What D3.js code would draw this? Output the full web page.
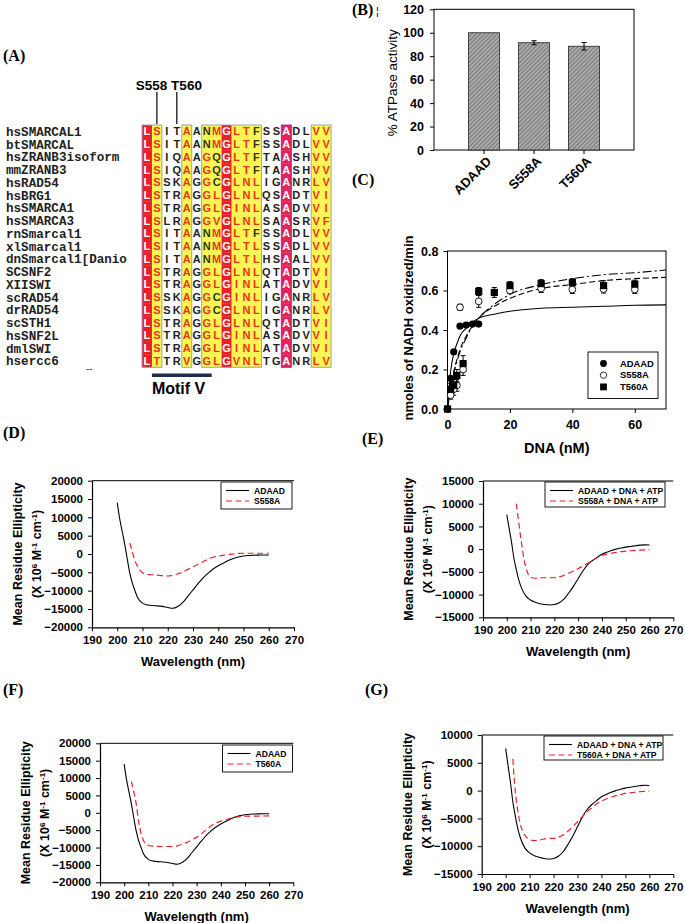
<!DOCTYPE html>
<html><head><meta charset="utf-8">
<script src="https://cdn.jsdelivr.net/npm/d3@7"></script>
<style>
body{margin:0;background:#fff}
svg{display:block}
text{font-family:"Liberation Sans",Arial,sans-serif;fill:#000}
</style></head><body>
<svg id="c" width="685" height="923"></svg>
<script>
// ================= DATA =================
// Panel A – alignment
const alignNames = ["hsSMARCAL1","btSMARCAL","hsZRANB3isoform","mmZRANB3","hsRAD54","hsBRG1","hsSMARCA1","hsSMARCA3","rnSmarcal1","xlSmarcal1","dnSmarcal1[Danio","SCSNF2","XIISWI","scRAD54","drRAD54","scSTH1","hsSNF2L","dmlSWI","hsercc6"];
const alignSeqs = [
 "LSITAANMGLTFSSADLVV","LSITAANMGLTFSSADLVV","LSIQAAGQGLTFTAASHVV","LSIQAAGQGLTFTAASHVV",
 "LSSKAGGCGLNLIGANRLV","LSTRAGGLGLNLQSADTVI","LSTRAGGLGINLASADVVI","LSLRAGGVGLNLSAASRVF",
 "LSITAANMGLTFSSADLVV","LSITAANMGLTLSSADLVV","LSITAANMGLTLHSAALVV","LSTRAGGLGLNLQTADTVI",
 "LSTRAGGLGINLATADVVI","LSSKAGGCGINLIGANRLV","LSSKAGGCGLNLIGANRLV","LSTRAGGLGLNLQTADTVI",
 "LSTRAGGLGINLASADVVI","LSTRAGGLGINLATADVVI","LTTRVGGLGVNLTGANRLV"];
const alignColClass = ["red","yel","","","yel","","yel","yel","red","yel","yel","yel","","","mag","","","yel","yel"];
const alignRedLetters = ["","ST","","","AV","","G","MLV","","LIV","TN","L","","","","","","VL","VIF"];
const alignMarks = ["S558","T560"];

// Panel B – ATPase activity
const atpCats = ["ADAAD","S558A","T560A"];
const atpVals = [100, 91.5, 88.5];
const atpErr  = [0, 1.7, 3.2];
const atpTicks = [0,20,40,60,80,100,120];

// Panel C – NADH oxidation vs DNA
const dnaADAAD  = [0,1,2,4,6,8,10];
const rateADAAD = [0,0.155,0.29,0.42,0.425,0.43,0.43];
const errADAAD  = [0,0.01,0.01,0.01,0.01,0.01,0.01];
const dnaS558A  = [0,1,2,3,4,5,10,20,30,40,50,60];
const rateS558A = [0,0.07,0.10,0.12,0.515,0.20,0.545,0.60,0.61,0.605,0.607,0.605];
const errS558A  = [0,0.02,0.03,0.03,0.015,0.03,0.03,0.015,0.02,0.02,0.02,0.02];
const dnaT560A  = [0,1,2,3,5,10,15,20,30,40,50,60];
const rateT560A = [0,0.10,0.12,0.17,0.23,0.595,0.59,0.625,0.635,0.64,0.625,0.632];
const errT560A  = [0,0.03,0.03,0.03,0.04,0.02,0.025,0.02,0.02,0.02,0.025,0.02];
const fitDNA    = [0,1,2,3,4,6,8,10,15,20,30,40,50,60,70];
const fitADAAD  = [0,0.19,0.28,0.33,0.37,0.41,0.44,0.46,0.48,0.495,0.51,0.515,0.52,0.525,0.527];
const fitS558A  = [0,0.11,0.19,0.25,0.30,0.37,0.42,0.46,0.52,0.56,0.61,0.63,0.65,0.66,0.667];
const fitT560A  = [0,0.10,0.18,0.24,0.29,0.36,0.42,0.46,0.53,0.58,0.63,0.66,0.68,0.69,0.704];
const cLegend = ["ADAAD","S558A","T560A"];

// CD spectra
const wlADAAD  = [200,201,202,203,204,205,206,207,208,210,212,215,218,220,222,224,226,228,230,232,234,236,238,240,242,244,246,248,250,252,254,256,258,260];
const cdADAAD  = [14000,9500,6000,2500,-1500,-5300,-8000,-10000,-11800,-13400,-13900,-14100,-14300,-14600,-14800,-14300,-13200,-11500,-9800,-8100,-6500,-5200,-4100,-3200,-2500,-1800,-1200,-800,-550,-400,-330,-300,-280,-270];
const wlS558A  = [205,206,207,208,209,210,212,215,218,220,222,224,226,228,230,232,234,236,238,240,242,244,246,248,250,255,260];
const cdS558A  = [3000,500,-1800,-3300,-4400,-5100,-5600,-5700,-5900,-6000,-5800,-5400,-4900,-4200,-3500,-2800,-2100,-1400,-900,-600,-350,-150,0,150,200,200,200];
const wlT560A  = [203,204,205,206,207,208,209,210,212,215,218,220,222,224,226,228,230,232,234,236,238,240,242,244,246,248,250,255,260];
const cdT560A  = [9000,6000,2500,-2500,-6000,-8000,-9000,-9400,-9600,-9700,-9700,-9700,-9500,-9000,-8500,-7800,-7000,-6000,-4900,-3700,-2900,-2400,-2000,-1600,-1300,-1100,-1000,-950,-900];
const wlADAADda = [200,201,202,203,204,205,206,208,210,212,214,216,218,220,222,224,226,228,230,232,234,236,238,240,242,244,246,248,250,252,254,256,258,260];
const cdADAADda = [7600,4500,1500,-2000,-4500,-6700,-8300,-10300,-11200,-11700,-12000,-12200,-12300,-12200,-11800,-11000,-9700,-8200,-6500,-4800,-3400,-2500,-1800,-1100,-700,-300,0,250,450,600,750,880,950,900];
const wlS558Ada = [204,205,206,207,208,209,210,212,214,216,218,220,222,224,226,228,230,232,234,236,238,240,242,244,246,248,250,252,254,256,258,260];
const cdS558Ada = [10000,6000,2000,-1500,-4000,-5500,-6200,-6400,-6300,-6300,-6300,-6300,-6100,-5800,-5300,-4800,-4300,-3700,-3100,-2500,-1900,-1400,-1100,-900,-700,-550,-450,-350,-250,-200,-150,-100];
const wlT560Ada = [203,204,205,206,207,208,210,212,214,216,218,220,222,224,226,228,230,232,234,236,238,240,242,244,246,248,250,252,254,256,258,260];
const cdT560Ada = [5700,0,-3500,-5800,-7200,-8000,-8800,-9000,-8900,-8700,-8600,-8600,-8400,-8000,-7300,-6500,-5600,-4700,-3800,-3100,-2400,-1900,-1500,-1200,-900,-700,-500,-400,-300,-200,-150,-100];
const wlTicks = [190,200,210,220,230,240,250,260,270];

// ================= DRAW =================
const svg = d3.select("#c");
const RED = "#e8232a";
const zip = (xs, ys) => xs.map((x,i)=>[x, ys[i]]);

function panelLabel(t, x, y){
  svg.append("text").attr("x",x).attr("y",y).text(t)
    .style("font-family","'Liberation Serif','Times New Roman',serif")
    .style("font-weight","bold").style("font-size","16px");
}
panelLabel("(A)",3,61); panelLabel("(B)",352,15); panelLabel("(C)",352,185);
panelLabel("(D)",3,438); panelLabel("(E)",362,444); panelLabel("(F)",3,695); panelLabel("(G)",365,695);
svg.append("text").attr("x",376).attr("y",15).text("¦").style("font-size","11px");

// ---------- Panel A ----------
(function(){
  const x0=142, cw=9.95, y0=125, rh=12.75;
  const g = svg.append("g");
  const nCol = alignSeqs[0].length;
  const colX = d3.scaleLinear().domain([0,nCol]).range([x0, x0+nCol*cw]);
  const rowY = d3.scaleLinear().domain([0,alignNames.length]).range([y0, y0+alignNames.length*rh]);
  const bg = {red:"#e8202a", yel:"#fbf452", mag:"#e3245a"};
  alignSeqs.forEach((s,r)=>{
    s.split("").forEach((ch,c)=>{
      const cls = alignColClass[c];
      if(cls){
        g.append("rect").attr("x",colX(c)).attr("y",rowY(r)).attr("width",cw+0.3).attr("height",rh+0.3).attr("fill",bg[cls]);
      }
      let col = "#222";
      if(cls==="red"||cls==="mag") col="#fff";
      else if(cls==="yel") col = alignRedLetters[c].includes(ch) ? "#e8361a" : "#2a3a10";
      g.append("text").attr("x",colX(c)+cw/2).attr("y",rowY(r)+rh/2).attr("dy","0.36em")
        .attr("text-anchor","middle").text(ch)
        .style("font-size","11px").style("font-weight","bold").style("fill",col);
    });
    g.append("text").attr("x",6).attr("y",rowY(r)+rh/2).attr("dy","0.36em").text(alignNames[r])
      .style("font-family","'Liberation Mono','Courier New',monospace").style("font-weight","bold")
      .style("font-size","12.6px").style("fill","#222");
  });
  const groups=[[0,1],[4,4],[6,11],[14,14],[17,18]];
  groups.forEach(([a,b])=>{
    g.append("rect").attr("x",colX(a)).attr("y",rowY(0)).attr("width",colX(b+1)-colX(a))
      .attr("height",rowY(alignNames.length)-rowY(0)).attr("fill","none")
      .attr("stroke", a===14 ? "#a02a9a" : "#8aa0b8").attr("stroke-width",0.9);
  });
  const markCols=[1,3];
  svg.append("text").attr("x",(colX(1)+colX(4))/2+2).attr("y",85).attr("dy","0.36em").attr("text-anchor","middle")
    .text(alignMarks.join(" ")).style("font-weight","bold").style("font-size","13.5px");
  markCols.forEach(c=>{
    svg.append("line").attr("x1",colX(c)+cw/2).attr("x2",colX(c)+cw/2).attr("y1",92).attr("y2",y0-1)
      .attr("stroke","#000").attr("stroke-width",1.2);
  });
  svg.append("rect").attr("x",colX(1)).attr("y",373.5).attr("width",colX(7)-colX(1)).attr("height",3.5).attr("fill","#1d2d4c");
  svg.append("text").attr("x",colX(1)).attr("y",388).attr("dy","0.36em").text("Motif V")
    .style("font-weight","bold").style("font-size","16px");
  svg.append("text").attr("x",86).attr("y",372).text("--").style("font-size","10px").style("fill","#444");
})();

// ---------- Panel B ----------
(function(){
  const L=434,R=634,T=9.3,B=150;
  const defs = svg.append("defs");
  const p = defs.append("pattern").attr("id","hatch").attr("patternUnits","userSpaceOnUse")
    .attr("width",3).attr("height",3).attr("patternTransform","rotate(45)");
  p.append("rect").attr("width",3).attr("height",3).attr("fill","#b4b4b4");
  p.append("rect").attr("width",1.3).attr("height",3).attr("fill","#777");
  const x = d3.scaleBand().domain(atpCats).range([L+25,R-25]);
  const y = d3.scaleLinear().domain([0,120]).range([B,T]);
  const g = svg.append("g");
  g.append("rect").attr("x",L).attr("y",T).attr("width",R-L).attr("height",B-T).attr("fill","none").attr("stroke","#000").attr("stroke-width",1);
  const bw = x.bandwidth()*0.62;
  atpCats.forEach((c,i)=>{
    const cx = x(c)+x.bandwidth()/2;
    g.append("rect").attr("x",cx-bw/2).attr("y",y(atpVals[i])).attr("width",bw).attr("height",y(0)-y(atpVals[i]))
      .attr("fill","url(#hatch)").attr("stroke","#222").attr("stroke-width",0.8);
    if(atpErr[i]>0){
      const e=atpErr[i];
      g.append("line").attr("x1",cx).attr("x2",cx).attr("y1",y(atpVals[i]+e)).attr("y2",y(atpVals[i]-e)).attr("stroke","#000");
      [atpVals[i]+e,atpVals[i]-e].forEach(v=>g.append("line").attr("x1",cx-2.5).attr("x2",cx+2.5).attr("y1",y(v)).attr("y2",y(v)).attr("stroke","#000"));
    }
    g.append("line").attr("x1",cx).attr("x2",cx).attr("y1",B).attr("y2",B+4).attr("stroke","#000");
    g.append("text").attr("transform",`translate(${cx+5},${B+9}) rotate(-45)`).attr("text-anchor","end")
      .attr("dy","0.35em").text(c).style("font-weight","bold").style("font-size","13px");
  });
  const ya = g.append("g").attr("transform",`translate(${L},0)`).call(d3.axisLeft(y).tickValues(atpTicks).tickSize(4).tickSizeOuter(0).tickPadding(6));
  ya.select(".domain").remove();
  ya.selectAll("text").style("font-weight","bold").style("font-size","12.5px").style("font-family","'Liberation Sans',Arial");
  g.append("text").attr("transform",`translate(392,${(T+B)/2+3}) rotate(-90)`).attr("text-anchor","middle").attr("dy","0.35em")
    .text("% ATPase activity").style("font-size","13.5px");
})();

// ---------- Panel C ----------
(function(){
  const L=447.5,R=666,T=251,B=409;
  const x = d3.scaleLinear().domain([0,70]).range([L,R]);
  const y = d3.scaleLinear().domain([0,0.8]).range([B,T]);
  const g = svg.append("g");
  g.append("rect").attr("x",L).attr("y",T).attr("width",R-L).attr("height",B-T).attr("fill","none").attr("stroke","#000");
  const xa = g.append("g").attr("transform",`translate(0,${B})`).call(d3.axisBottom(x).tickValues([0,20,40,60]).tickSize(4).tickSizeOuter(0).tickPadding(7));
  const ya = g.append("g").attr("transform",`translate(${L},0)`).call(d3.axisLeft(y).tickValues([0,0.2,0.4,0.6,0.8]).tickFormat(d3.format(".1f")).tickSize(4).tickSizeOuter(0).tickPadding(5));
  [xa,ya].forEach(a=>{a.select(".domain").remove(); a.selectAll("text").style("font-weight","bold").style("font-size","12.5px").style("font-family","'Liberation Sans',Arial");});
  g.append("text").attr("x",(L+R)/2).attr("y",448).attr("dy","0.35em").attr("text-anchor","middle").text("DNA (nM)").style("font-weight","bold").style("font-size","14.5px");
  g.append("text").attr("transform",`translate(408,${(T+B)/2-2}) rotate(-90)`).attr("text-anchor","middle").attr("dy","0.35em")
    .text("nmoles of NADH oxidized/min").style("font-weight","bold").style("font-size","13px");
  const line = d3.line().x(d=>x(d[0])).y(d=>y(d[1])).curve(d3.curveMonotoneX);
  g.append("path").attr("d",line(zip(fitDNA,fitADAAD))).attr("fill","none").attr("stroke","#000").attr("stroke-width",1.1);
  g.append("path").attr("d",line(zip(fitDNA,fitS558A))).attr("fill","none").attr("stroke","#000").attr("stroke-width",1.1).attr("stroke-dasharray","6,3");
  g.append("path").attr("d",line(zip(fitDNA,fitT560A))).attr("fill","none").attr("stroke","#000").attr("stroke-width",1.1).attr("stroke-dasharray","9,3,2,3");
  function errs(xs,ys,es){
    xs.forEach((v,i)=>{ if(!es[i]) return; const cx=x(v);
      g.append("line").attr("x1",cx).attr("x2",cx).attr("y1",y(ys[i]+es[i])).attr("y2",y(ys[i]-es[i])).attr("stroke","#000");
      [ys[i]+es[i],ys[i]-es[i]].forEach(w=>g.append("line").attr("x1",cx-2.5).attr("x2",cx+2.5).attr("y1",y(w)).attr("y2",y(w)).attr("stroke","#000"));
    });
  }
  errs(dnaS558A,rateS558A,errS558A); errs(dnaT560A,rateT560A,errT560A); errs(dnaADAAD,rateADAAD,errADAAD);
  dnaS558A.forEach((v,i)=>g.append("circle").attr("cx",x(v)).attr("cy",y(rateS558A[i])).attr("r",3.4).attr("fill","#fff").attr("stroke","#000").attr("stroke-width",0.9));
  dnaT560A.forEach((v,i)=>g.append("rect").attr("x",x(v)-3.6).attr("y",y(rateT560A[i])-3.6).attr("width",7.2).attr("height",7.2).attr("fill","#000"));
  dnaADAAD.forEach((v,i)=>g.append("circle").attr("cx",x(v)).attr("cy",y(rateADAAD[i])).attr("r",3.6).attr("fill","#000"));
  const lx=588, ly=352;
  g.append("rect").attr("x",lx).attr("y",ly).attr("width",70).attr("height",46.5).attr("fill","#fff").attr("stroke","#000").attr("stroke-width",0.9);
  cLegend.forEach((t,i)=>{
    const yy = ly+11.5+i*11.7, mx=lx+15.5;
    if(i===0) g.append("circle").attr("cx",mx).attr("cy",yy).attr("r",3.4).attr("fill","#000");
    if(i===1) g.append("circle").attr("cx",mx).attr("cy",yy).attr("r",3.2).attr("fill","#fff").attr("stroke","#000").attr("stroke-width",0.8);
    if(i===2) g.append("rect").attr("x",mx-3.4).attr("y",yy-3.4).attr("width",6.8).attr("height",6.8).attr("fill","#000");
    g.append("text").attr("x",lx+32).attr("y",yy).attr("dy","0.35em").text(t).style("font-weight","bold").style("font-size","9.4px");
  });
})();

// ---------- CD panels ----------
function cdPanel(o){
  const {L,R,T,B,ymin,ymax,series,legend,lg} = o;
  const x = d3.scaleLinear().domain([190,270]).range([L,R]);
  const y = d3.scaleLinear().domain([ymin,ymax]).range([B,T]);
  const g = svg.append("g");
  g.append("line").attr("x1",L).attr("x2",R).attr("y1",T).attr("y2",T).attr("stroke","#000").attr("stroke-width",1);
  const xa = g.append("g").attr("transform",`translate(0,${B})`).call(d3.axisBottom(x).tickValues(wlTicks).tickSize(4).tickSizeOuter(0).tickPadding(5));
  const ya = g.append("g").attr("transform",`translate(${L},0)`).call(d3.axisLeft(y).tickValues(d3.range(ymin,ymax+1,5000)).tickFormat(d3.format("d")).tickSize(4).tickSizeOuter(0).tickPadding(5));
  [xa,ya].forEach(a=>{a.select(".domain").attr("stroke-width",1.2); a.selectAll("text").style("font-weight","bold").style("font-size","11.5px").style("font-family","'Liberation Sans',Arial");});
  g.append("text").attr("x",(L+R)/2).attr("y",B+34).attr("dy","0.35em").attr("text-anchor","middle").text("Wavelength (nm)").style("font-weight","bold").style("font-size","13px");
  const cy=(T+B)/2;
  g.append("text").attr("transform",`translate(${L-74},${cy}) rotate(-90)`).attr("text-anchor","middle").attr("dy","0.35em")
    .text("Mean Residue Ellipticity").style("font-weight","bold").style("font-size","12.5px");
  const t2 = g.append("text").attr("transform",`translate(${L-55},${cy}) rotate(-90)`).attr("text-anchor","middle").attr("dy","0.35em")
    .style("font-weight","bold").style("font-size","12.5px");
  t2.append("tspan").text("(X 10");
  t2.append("tspan").text("6").attr("baseline-shift","super").style("font-size","8px");
  t2.append("tspan").text(" M");
  t2.append("tspan").text("-1").attr("baseline-shift","super").style("font-size","8px");
  t2.append("tspan").text(" cm");
  t2.append("tspan").text("-1").attr("baseline-shift","super").style("font-size","8px");
  t2.append("tspan").text(")");
  const line = d3.line().x(d=>x(d[0])).y(d=>y(d[1])).curve(d3.curveMonotoneX);
  series.forEach((s,i)=>{
    g.append("path").attr("d",line(zip(s[0],s[1]))).attr("fill","none")
      .attr("stroke", i===0?"#000":RED).attr("stroke-width", i===0?1.1:1.2)
      .attr("stroke-dasharray", i===0?null:"6,3.5");
  });
  g.append("rect").attr("x",lg.x).attr("y",lg.y).attr("width",lg.w).attr("height",lg.h).attr("fill","#fff").attr("stroke","#000").attr("stroke-width",0.9);
  legend.forEach((t,i)=>{
    const yy = lg.y+8.5+i*10.5;
    g.append("line").attr("x1",lg.x+5).attr("x2",lg.x+28).attr("y1",yy).attr("y2",yy)
      .attr("stroke", i===0?"#000":RED).attr("stroke-width",1.1).attr("stroke-dasharray", i===0?null:"6,3.5");
    g.append("text").attr("x",lg.x+33).attr("y",yy).attr("dy","0.35em").text(t).style("font-weight","bold").style("font-size","8.6px");
  });
}
cdPanel({L:92,R:294,T:480.7,B:627.3,ymin:-20000,ymax:20000,
  series:[[wlADAAD,cdADAAD],[wlS558A,cdS558A]], legend:["ADAAD","S558A"], lg:{x:221,y:482,w:71,h:27}});
cdPanel({L:100,R:293.3,T:743.3,B:882.3,ymin:-20000,ymax:20000,
  series:[[wlADAAD,cdADAAD],[wlT560A,cdT560A]], legend:["ADAAD","T560A"], lg:{x:222.5,y:745,w:70,h:27}});
cdPanel({L:483,R:673.3,T:481,B:617.3,ymin:-15000,ymax:15000,
  series:[[wlADAADda,cdADAADda],[wlS558Ada,cdS558Ada]], legend:["ADAAD + DNA + ATP","S558A + DNA + ATP"], lg:{x:545,y:482,w:120,h:25}});
cdPanel({L:481.7,R:673.3,T:735,B:874,ymin:-15000,ymax:10000,
  series:[[wlADAADda,cdADAADda],[wlT560Ada,cdT560Ada]], legend:["ADAAD + DNA + ATP","T560A + DNA + ATP"], lg:{x:544,y:736,w:119,h:24}});
</script>
</body></html>
